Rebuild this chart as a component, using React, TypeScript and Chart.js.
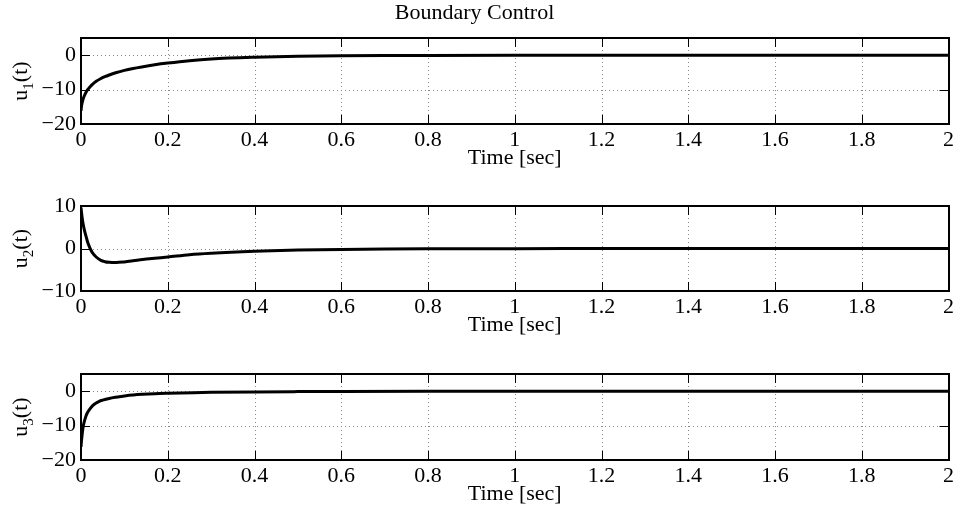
import React, { useEffect, useRef } from "react";
import { Chart, registerables } from "chart.js";

Chart.register(...registerables);

const FONT = "'Liberation Serif', 'Times New Roman', serif";

const TITLE = "Boundary Control";
const X_LABEL = "Time [sec]";
const X_TICKS = [0, 0.2, 0.4, 0.6, 0.8, 1, 1.2, 1.4, 1.6, 1.8, 2];

// u1(t)
const T1 = [0, 0.001, 0.002, 0.004, 0.007, 0.011, 0.015, 0.02, 0.027, 0.035, 0.045, 0.055, 0.065, 0.08, 0.1, 0.12, 0.14, 0.17, 0.2, 0.25, 0.3, 0.4, 0.5, 0.6, 0.7, 0.8, 1.0, 1.2, 1.5, 2.0];
const U1 = [-16.2, -15.0, -14.2, -13.1, -12.0, -10.9, -10.1, -9.3, -8.4, -7.6, -6.85, -6.25, -5.75, -5.1, -4.4, -3.85, -3.4, -2.8, -2.3, -1.6, -1.1, -0.6, -0.33, -0.18, -0.1, -0.06, -0.02, -0.01, 0, 0];

// u2(t)
const T2 = [0, 0.002, 0.004, 0.0077, 0.0115, 0.015, 0.019, 0.023, 0.027, 0.035, 0.046, 0.055, 0.065, 0.081, 0.1, 0.12, 0.142, 0.17, 0.2, 0.25, 0.3, 0.4, 0.5, 0.6, 0.7, 0.8, 1.0, 1.2, 1.5, 2.0];
const U2 = [9.6, 7.8, 6.3, 4.4, 2.9, 1.6, 0.5, -0.4, -1.1, -2.0, -2.8, -3.1, -3.25, -3.3, -3.15, -2.9, -2.6, -2.3, -2.0, -1.45, -1.1, -0.65, -0.38, -0.22, -0.13, -0.08, -0.03, -0.01, 0, 0];

// u3(t)
const T3 = [0, 0.001, 0.0023, 0.0038, 0.0055, 0.0077, 0.0115, 0.015, 0.019, 0.027, 0.035, 0.042, 0.05, 0.065, 0.08, 0.104, 0.12, 0.142, 0.17, 0.2, 0.26, 0.3, 0.4, 0.5, 0.6, 0.8, 1.0, 1.5, 2.0];
const U3 = [-16.2, -14.6, -13.0, -11.4, -10.0, -8.8, -7.2, -6.2, -5.4, -4.2, -3.45, -2.95, -2.6, -2.1, -1.75, -1.3, -1.1, -0.9, -0.72, -0.6, -0.42, -0.34, -0.2, -0.12, -0.07, -0.03, -0.01, 0, 0];

const Y_TICKS_1 = [-20, -10, 0];
const Y_TICKS_2 = [-10, 0, 10];
const Y_TICKS_3 = [-20, -10, 0];
const Y_RANGE_1 = [-20, 5];
const Y_RANGE_2 = [-10, 10];
const Y_RANGE_3 = [-20, 5];
const SUBS = ["1", "2", "3"];

const fmt = (v: number) => {
  const r = Math.round(v * 1000) / 1000;
  return String(r).replace("-", "\u2212");
};

const framePlugin = {
  id: "matlabFrame",
  beforeDatasetsDraw(chart: any) {
    const { ctx, chartArea: a, scales } = chart;
    ctx.save();
    ctx.strokeStyle = "#8a8a8a";
    ctx.lineWidth = 1;
    ctx.setLineDash([1, 3]);
    for (const t of scales.x.ticks) {
      const px = Math.round(scales.x.getPixelForValue(t.value)) + 0.5;
      if (px <= a.left + 1 || px >= a.right - 1) continue;
      ctx.beginPath();
      ctx.moveTo(px, a.top);
      ctx.lineTo(px, a.bottom);
      ctx.stroke();
    }
    for (const t of scales.y.ticks) {
      const py = Math.round(scales.y.getPixelForValue(t.value)) + 0.5;
      if (py <= a.top + 1 || py >= a.bottom - 1) continue;
      ctx.beginPath();
      ctx.moveTo(a.left, py);
      ctx.lineTo(a.right, py);
      ctx.stroke();
    }
    ctx.restore();
  },
  afterDatasetsDraw(chart: any) {
    const { ctx, chartArea: a, scales } = chart;
    const L = 9;
    ctx.save();
    ctx.setLineDash([]);
    ctx.strokeStyle = "#000";
    ctx.lineWidth = 1;
    for (const t of scales.x.ticks) {
      const px = Math.round(scales.x.getPixelForValue(t.value)) + 0.5;
      ctx.beginPath();
      ctx.moveTo(px, a.bottom);
      ctx.lineTo(px, a.bottom - L);
      ctx.moveTo(px, a.top);
      ctx.lineTo(px, a.top + L);
      ctx.stroke();
    }
    for (const t of scales.y.ticks) {
      const py = Math.round(scales.y.getPixelForValue(t.value)) + 0.5;
      ctx.beginPath();
      ctx.moveTo(a.left, py);
      ctx.lineTo(a.left + L, py);
      ctx.moveTo(a.right, py);
      ctx.lineTo(a.right - L, py);
      ctx.stroke();
    }
    ctx.lineWidth = 2;
    ctx.strokeRect(Math.round(a.left), Math.round(a.top), Math.round(a.right - a.left), Math.round(a.bottom - a.top));
    ctx.restore();
  },
  afterDraw(chart: any) {
    const opts = chart.options.plugins.matlabFrame || {};
    const sub: string = opts.sub || "";
    const { ctx, chartArea: a } = chart;
    ctx.save();
    const cy = (a.top + a.bottom) / 2;
    ctx.translate(27, cy);
    ctx.rotate(-Math.PI / 2);
    ctx.fillStyle = "#000";
    ctx.textBaseline = "alphabetic";
    ctx.textAlign = "left";
    const big = `22px ${FONT}`;
    const small = `15px ${FONT}`;
    ctx.font = big;
    const wu = ctx.measureText("u").width;
    const wp = ctx.measureText("(t)").width;
    ctx.font = small;
    const ws = ctx.measureText(sub).width;
    const total = wu + ws + wp;
    let x = -total / 2;
    ctx.font = big;
    ctx.fillText("u", x, 0);
    x += wu;
    ctx.font = small;
    ctx.fillText(sub, x, 6);
    x += ws;
    ctx.font = big;
    ctx.fillText("(t)", x, 0);
    ctx.restore();
  },
};

type PanelProps = {
  t: number[];
  u: number[];
  yTicks: number[];
  yRange: number[];
  sub: string;
  showTitle: boolean;
  top: number;
  height: number;
  areaTop: number;
  areaBottom: number;
};

function Panel(p: PanelProps) {
  const ref = useRef<HTMLCanvasElement | null>(null);
  useEffect(() => {
    if (!ref.current) return;
    const xh = p.height - p.areaBottom;
    const chart = new Chart(ref.current, {
      type: "line",
      data: {
        datasets: [
          {
            data: p.t.map((x, i) => ({ x, y: p.u[i] })),
            borderColor: "#000",
            borderWidth: 3,
            pointRadius: 0,
            fill: false,
            cubicInterpolationMode: "monotone",
          },
        ],
      },
      options: {
        animation: false,
        responsive: false,
        devicePixelRatio: 1,
        layout: { padding: { top: p.showTitle ? 0 : p.areaTop, left: 0, right: 8, bottom: 0 } },
        plugins: {
          legend: { display: false },
          tooltip: { enabled: false },
          title: {
            display: p.showTitle,
            text: TITLE,
            color: "#000",
            font: { family: FONT, size: 22, weight: "normal" as any, lineHeight: 1.2 },
            padding: { top: 0, bottom: p.areaTop - 26.4 },
          },
          matlabFrame: { sub: p.sub },
        } as any,
        scales: {
          x: {
            type: "linear",
            min: 0,
            max: 2,
            afterBuildTicks: (s: any) => {
              s.ticks = X_TICKS.map((v) => ({ value: v }));
            },
            afterFit: (s: any) => {
              s.height = xh;
            },
            ticks: {
              autoSkip: false,
              maxRotation: 0,
              color: "#000",
              padding: 3,
              font: { family: FONT, size: 22 },
              callback: (v: any) => fmt(Number(v)),
            },
            grid: { display: false, drawTicks: false },
            border: { display: false },
            title: {
              display: true,
              text: X_LABEL,
              color: "#000",
              font: { family: FONT, size: 22, lineHeight: 1.2 },
              padding: { top: 0, bottom: Math.max(0, xh - 47) },
            },
          },
          y: {
            type: "linear",
            min: p.yRange[0],
            max: p.yRange[1],
            afterBuildTicks: (s: any) => {
              s.ticks = p.yTicks.map((v) => ({ value: v }));
            },
            afterFit: (s: any) => {
              s.width = 81;
            },
            ticks: {
              color: "#000",
              padding: 5,
              font: { family: FONT, size: 22 },
              callback: (v: any) => fmt(Number(v)),
            },
            grid: { display: false, drawTicks: false },
            border: { display: false },
          },
        },
      } as any,
      plugins: [framePlugin as any],
    });
    return () => chart.destroy();
  }, []);
  return (
    <canvas
      ref={ref}
      width={957}
      height={p.height}
      style={{ position: "absolute", left: 0, top: p.top, width: 957, height: p.height, display: "block" }}
    />
  );
}

export default function App() {
  return (
    <div style={{ position: "fixed", left: 0, top: 0, width: 957, height: 510, background: "#fff" }}>
      <Panel t={T1} u={U1} yTicks={Y_TICKS_1} yRange={Y_RANGE_1} sub={SUBS[0]} showTitle={true} top={0} height={172} areaTop={38} areaBottom={124} />
      <Panel t={T2} u={U2} yTicks={Y_TICKS_2} yRange={Y_RANGE_2} sub={SUBS[1]} showTitle={false} top={172} height={168} areaTop={34} areaBottom={119} />
      <Panel t={T3} u={U3} yTicks={Y_TICKS_3} yRange={Y_RANGE_3} sub={SUBS[2]} showTitle={false} top={340} height={170} areaTop={34} areaBottom={120} />
    </div>
  );
}
